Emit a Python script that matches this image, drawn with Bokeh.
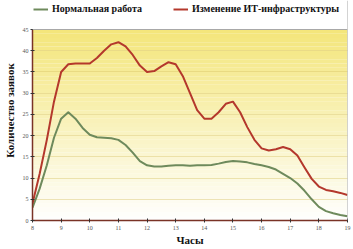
import numpy as np
from bokeh.plotting import figure
from bokeh.models import Range1d, FixedTicker, Legend, LegendItem, Span
from bokeh.embed import file_html
from bokeh.resources import INLINE

hours = [8.0, 8.25, 8.5, 8.75, 9.0, 9.25, 9.5, 9.75, 10.0, 10.25, 10.5, 10.75,
         11.0, 11.25, 11.5, 11.75, 12.0, 12.25, 12.5, 12.75, 13.0, 13.25, 13.5,
         13.75, 14.0, 14.25, 14.5, 14.75, 15.0, 15.25, 15.5, 15.75, 16.0, 16.25,
         16.5, 16.75, 17.0, 17.25, 17.5, 17.75, 18.0, 18.25, 18.5, 18.75, 19.0]

it_change = [4, 11, 19, 28, 35, 36.8, 37, 37, 37, 38.3, 40, 41.5,
             42, 41, 39, 36.5, 35, 35.2, 36.3, 37.3, 36.8, 34, 30,
             26, 24, 24, 25.5, 27.5, 28, 25.5, 22, 19, 17, 16.5,
             16.8, 17.3, 16.8, 15.3, 12.5, 9.8, 8, 7.2, 6.9, 6.5, 6]

normal = [3, 7.5, 13, 19.5, 24, 25.5, 24, 21.8, 20.2, 19.6, 19.5, 19.4,
          19, 17.8, 16, 14, 13, 12.7, 12.7, 12.9, 13, 13, 12.9,
          13, 13, 13.1, 13.4, 13.8, 14, 13.9, 13.7, 13.3, 13, 12.6,
          12, 11, 10, 8.7, 7, 5, 3.2, 2.2, 1.7, 1.3, 1]

x_ticks = list(range(8, 20))
y_ticks = list(range(0, 50, 5))
series_labels = ["Нормальная работа", "Изменение ИТ-инфраструктуры"]

FONT = "Liberation Sans Narrow"
Y_MAX = 45
# frame spans the full canvas height above the x axis (220 px); 45 units = 191 px
y_top = Y_MAX * 220 / 191

p = figure(width=353, height=249, output_backend="svg", toolbar_location=None,
           x_range=Range1d(8, 19), y_range=Range1d(0, y_top),
           min_border_left=31, min_border_right=6, min_border_top=0,
           min_border_bottom=29)
p.outline_line_color = None

# background gradient bands (yellow at top to white at bottom)
n = 45
edges = np.linspace(0, Y_MAX, n + 1)
band_colors = []
for i in range(n):
    t = (i + 0.5) / n
    r = int(255 + (244 - 255) * t)
    g = int(255 + (230 - 255) * t)
    b = int(255 + (122 - 255) * t)
    band_colors.append("#%02x%02x%02x" % (r, g, b))
p.quad(left=8, right=19, bottom=edges[:-1], top=edges[1:], fill_color=band_colors,
       line_color=None, level="image")

# plot-area border on top and right
p.add_layout(Span(location=Y_MAX, dimension="width", line_color="#a8a8a8", line_width=1))
p.add_layout(Span(location=19, dimension="height", line_color="#a8a8a8", line_width=1))

r_norm = p.line(hours, normal, line_color="#6e8a5c", line_width=2, line_join="round")
r_it = p.line(hours, it_change, line_color="#b4382c", line_width=2, line_join="round")

p.xgrid.visible = False
p.ygrid.ticker = FixedTicker(ticks=y_ticks[1:-1])
p.ygrid.grid_line_color = "#d9c66a"
p.ygrid.grid_line_dash = "1 1"
p.ygrid.grid_line_alpha = 0.9

for ax in (p.xaxis, p.yaxis):
    ax.axis_line_color = "#7a3326"
    ax.axis_line_width = 1.5
    ax.major_tick_line_color = "#333333"
    ax.major_tick_in = 2
    ax.major_tick_out = 2
    ax.minor_tick_line_color = None
    ax.major_label_text_font_size = "6px"
    ax.major_label_text_color = "#555555"
    ax.major_label_text_font = FONT
    ax.axis_label_text_font = FONT
    ax.axis_label_text_font_style = "bold"
    ax.axis_label_text_font_size = "11px"
    ax.axis_label_text_color = "#111111"

p.yaxis.bounds = (0, Y_MAX)
p.xaxis.ticker = FixedTicker(ticks=x_ticks)
p.yaxis.ticker = FixedTicker(ticks=y_ticks)
p.xaxis.axis_label = "Часы"
p.yaxis.axis_label = "Количество заявок"
p.xaxis.major_label_standoff = 3
p.xaxis.axis_label_standoff = 1
p.yaxis.major_label_standoff = 2
p.yaxis.axis_label_standoff = 4

legend = Legend(items=[LegendItem(label=series_labels[0], renderers=[r_norm]),
                       LegendItem(label=series_labels[1], renderers=[r_it])],
                orientation="horizontal", location=(1, 206),
                glyph_width=15, glyph_height=10, label_standoff=4, spacing=31,
                padding=0, margin=0, border_line_color=None,
                background_fill_alpha=0,
                label_text_font=FONT, label_text_font_style="bold",
                label_text_font_size="10px", label_text_color="#111111")
p.add_layout(legend, "center")

open("out.html", "w").write(file_html(p, INLINE))
